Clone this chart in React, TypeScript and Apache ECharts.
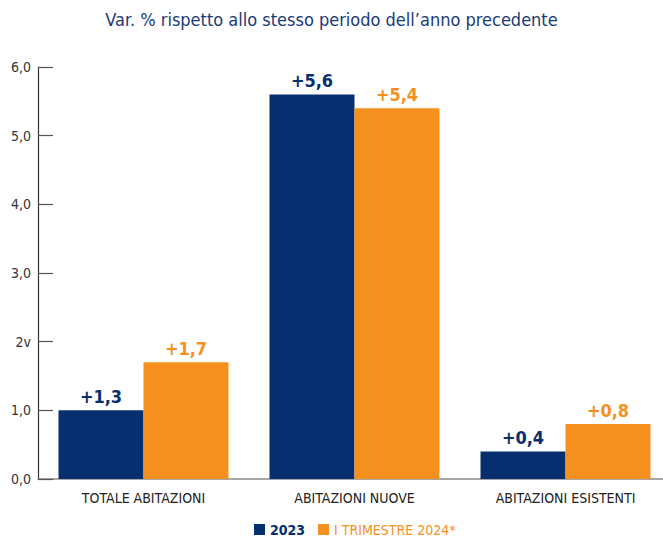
import React, { useEffect, useRef } from "react";
import * as echarts from "echarts";

const titleText = "Var. % rispetto allo stesso periodo dell\u2019anno precedente";
const categories = ["TOTALE ABITAZIONI", "ABITAZIONI NUOVE", "ABITAZIONI ESISTENTI"];
const seriesNames = ["2023", "I TRIMESTRE 2024*"];
const values2023 = [1.0, 5.6, 0.4];
const labels2023 = ["+1,3", "+5,6", "+0,4"];
const valuesQ1 = [1.7, 5.4, 0.8];
const labelsQ1 = ["+1,7", "+5,4", "+0,8"];
const yTickLabels = ["0,0", "1,0", "2v", "3,0", "4,0", "5,0", "6,0"];

const BLUE = "#072E6E";
const ORANGE = "#F5901F";
const FONT = "'DejaVu Sans Condensed', 'Roboto', sans-serif";

export default function App() {
  const ref = useRef<HTMLDivElement>(null);
  useEffect(() => {
    if (!ref.current) return;
    const chart = echarts.init(ref.current, undefined, { renderer: "svg" });
    chart.setOption({
      animation: false,
      textStyle: { fontFamily: FONT },
      title: {
        text: titleText,
        left: "center",
        top: 5,
        textStyle: { fontFamily: FONT, fontSize: 18, fontWeight: "normal", color: "#1A3A78" },
      },
      legend: {
        left: 254,
        top: 522,
        padding: 0,
        itemWidth: 11,
        itemHeight: 11,
        itemGap: 13,
        icon: "rect",
        data: [
          { name: seriesNames[0], textStyle: { color: BLUE, fontWeight: "bold" } },
          { name: seriesNames[1], textStyle: { color: ORANGE } },
        ],
        textStyle: { fontFamily: FONT, fontSize: 14, lineHeight: 15 },
      },
      grid: {
        left: 38,
        width: 633,
        top: 67,
        bottom: 60,
        containLabel: false,
        outerBoundsMode: "none",
      },
      xAxis: {
        type: "category",
        data: categories,
        axisLine: { lineStyle: { color: "#8a8a8a", width: 1.5 } },
        axisTick: { inside: true, length: 10, lineStyle: { color: "#555" } },
        axisLabel: { margin: 12, fontFamily: FONT, fontSize: 14, color: "#222" },
      },
      yAxis: {
        type: "value",
        min: 0,
        max: 6,
        interval: 1,
        splitLine: { show: false },
        axisLine: { show: true, lineStyle: { color: "#333", width: 1.2 } },
        axisTick: { show: true, inside: true, length: 15, lineStyle: { color: "#555", width: 1.2 } },
        axisLabel: {
          margin: 7,
          fontFamily: FONT,
          fontSize: 14,
          color: "#333",
          formatter: (v: number) => yTickLabels[Math.round(v)] ?? "",
        },
      },
      series: [
        {
          name: seriesNames[0],
          type: "bar",
          data: values2023,
          barWidth: 85,
          barGap: "0%",
          itemStyle: { color: BLUE },
          label: {
            show: true,
            position: "top",
            distance: 5,
            fontFamily: FONT,
            fontSize: 18,
            fontWeight: "bold",
            color: BLUE,
            formatter: (p: any) => labels2023[p.dataIndex],
          },
        },
        {
          name: seriesNames[1],
          type: "bar",
          data: valuesQ1,
          barWidth: 85,
          barGap: "0%",
          itemStyle: { color: ORANGE },
          label: {
            show: true,
            position: "top",
            distance: 5,
            fontFamily: FONT,
            fontSize: 18,
            fontWeight: "bold",
            color: ORANGE,
            formatter: (p: any) => labelsQ1[p.dataIndex],
          },
        },
      ],
    });
    return () => chart.dispose();
  }, []);
  return (
    <div
      ref={ref}
      style={{ position: "fixed", left: 0, top: 0, width: 663, height: 539, background: "#fff" }}
    />
  );
}
